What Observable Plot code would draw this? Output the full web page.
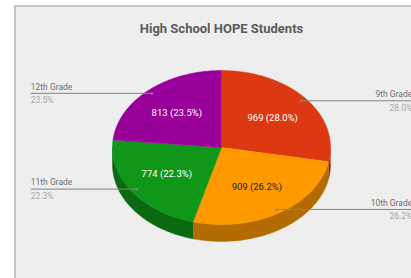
<!DOCTYPE html>
<html>
<head>
<meta charset="utf-8">
<script src="https://cdn.jsdelivr.net/npm/d3@7"></script>
<script src="https://cdn.jsdelivr.net/npm/@observablehq/plot@0.6"></script>
<style>
  html, body { margin: 0; padding: 0; background: #ffffff; }
  #wrap { position: relative; width: 411px; height: 278px; overflow: hidden; background: #ffffff; }
  #panel { position: absolute; left: 14px; top: 5px; width: 520px; height: 400px;
           background: #eeeeee; border-left: 2px solid #c6c6c6; border-top: 2px solid #c6c6c6; }
  #chart { position: absolute; left: 0; top: 0; }
</style>
</head>
<body>
<div id="wrap"><div id="panel"></div><div id="chart"></div></div>
<script>
// ---- data ----
const title = "High School HOPE Students";
const grades = ["9th Grade", "10th Grade", "11th Grade", "12th Grade"];
const students = [969, 909, 774, 813];
const colors = ["#dc3912", "#ff9900", "#109618", "#990099"];

// ---- geometry derived from data (unit pie, angle clockwise from top) ----
const total = d3.sum(students);
const depth = 0.22;          // 3D thickness in y units
const step = Math.PI / 180;
let acc = 0;
const slices = students.map((v, i) => {
  const a0 = acc / total * 2 * Math.PI;
  acc += v;
  const a1 = acc / total * 2 * Math.PI;
  return {i, grade: grades[i], value: v, a0, a1, mid: (a0 + a1) / 2,
          pct: (v / total * 100).toFixed(1) + "%", color: colors[i],
          side: d3.color(colors[i]).darker(1).formatHex()};
});
function arcAngles(s, e) {
  const out = [];
  for (let t = s; t < e; t += step) out.push(t);
  out.push(e);
  return out;
}
// top faces
const faces = [];
for (const s of slices) {
  faces.push({key: s.grade, x: 0, y: 0, fill: s.color});
  for (const t of arcAngles(s.a0, s.a1)) faces.push({key: s.grade, x: Math.sin(t), y: Math.cos(t), fill: s.color});
}
// front side walls
const sides = [];
for (const s of slices) {
  const a = Math.max(s.a0, Math.PI / 2), b = Math.min(s.a1, 3 * Math.PI / 2);
  if (b <= a) continue;
  const ts = arcAngles(a, b);
  for (const t of ts) sides.push({key: s.grade, x: Math.sin(t), y: Math.cos(t), fill: s.side});
  for (const t of ts.slice().reverse()) sides.push({key: s.grade, x: Math.sin(t), y: Math.cos(t) - depth, fill: s.side});
}
// leader lines
const leadR = 0.95, labelX = 1.75;
const leaders = slices.map(s => {
  const x = leadR * Math.sin(s.mid), y = leadR * Math.cos(s.mid);
  const right = x > 0;
  return {...s, x1: x, y1: y, x2: right ? labelX : -labelX, right};
});
const rightL = leaders.filter(d => d.right), leftL = leaders.filter(d => !d.right);
const innerR = 0.61;
const inner = slices.map(s => ({...s, x: innerR * Math.sin(s.mid), y: innerR * Math.cos(s.mid),
  text: `${s.value} (${s.pct})`, tfill: d3.lab(s.color).l > 60 ? "#222222" : "#ffffff"}));

const font = "Roboto, 'Noto Sans', sans-serif";
const labelMarks = (data, anchor) => [
  Plot.text(data, {x: "x2", y: "y1", text: "grade", textAnchor: anchor, dy: -6.5, fill: "#6e6e6e", fontSize: 8.5}),
  Plot.text(data, {x: "x2", y: "y1", text: "pct", textAnchor: anchor, dy: 7, fill: "#a6a6a6", fontSize: 8.5})
];
const chart = Plot.plot({
  width: 411, height: 278,
  margin: 0,
  style: {background: "transparent", fontFamily: font, overflow: "visible"},
  x: {domain: [-1, 1], range: [112, 330], axis: null},
  y: {domain: [-1, 1], range: [224, 70], axis: null},
  marks: [
    Plot.line(sides, {x: "x", y: "y", z: "key", fill: "fill", stroke: "fill", strokeWidth: 0.5, curve: "linear"}),
    Plot.line(faces, {x: "x", y: "y", z: "key", fill: "fill", stroke: "fill", strokeWidth: 0.5, curve: "linear"}),
    Plot.link(leaders, {x1: "x1", y1: "y1", x2: "x2", y2: "y1", stroke: "#858585", strokeWidth: 1}),
    Plot.dot(leaders, {x: "x1", y: "y1", r: 1.2, fill: "#8a8a8a", stroke: null}),
    ...labelMarks(rightL, "end"),
    ...labelMarks(leftL, "start"),
    Plot.text(inner, {x: "x", y: "y", text: "text", fill: "tfill", fontSize: 9.5}),
    Plot.text([title], {x: 0, y: 1.545, text: d => d, fontSize: 13, fontWeight: "bold", fill: "#5a5a5a"})
  ]
});
document.getElementById("chart").appendChild(chart);
</script>
</body>
</html>
